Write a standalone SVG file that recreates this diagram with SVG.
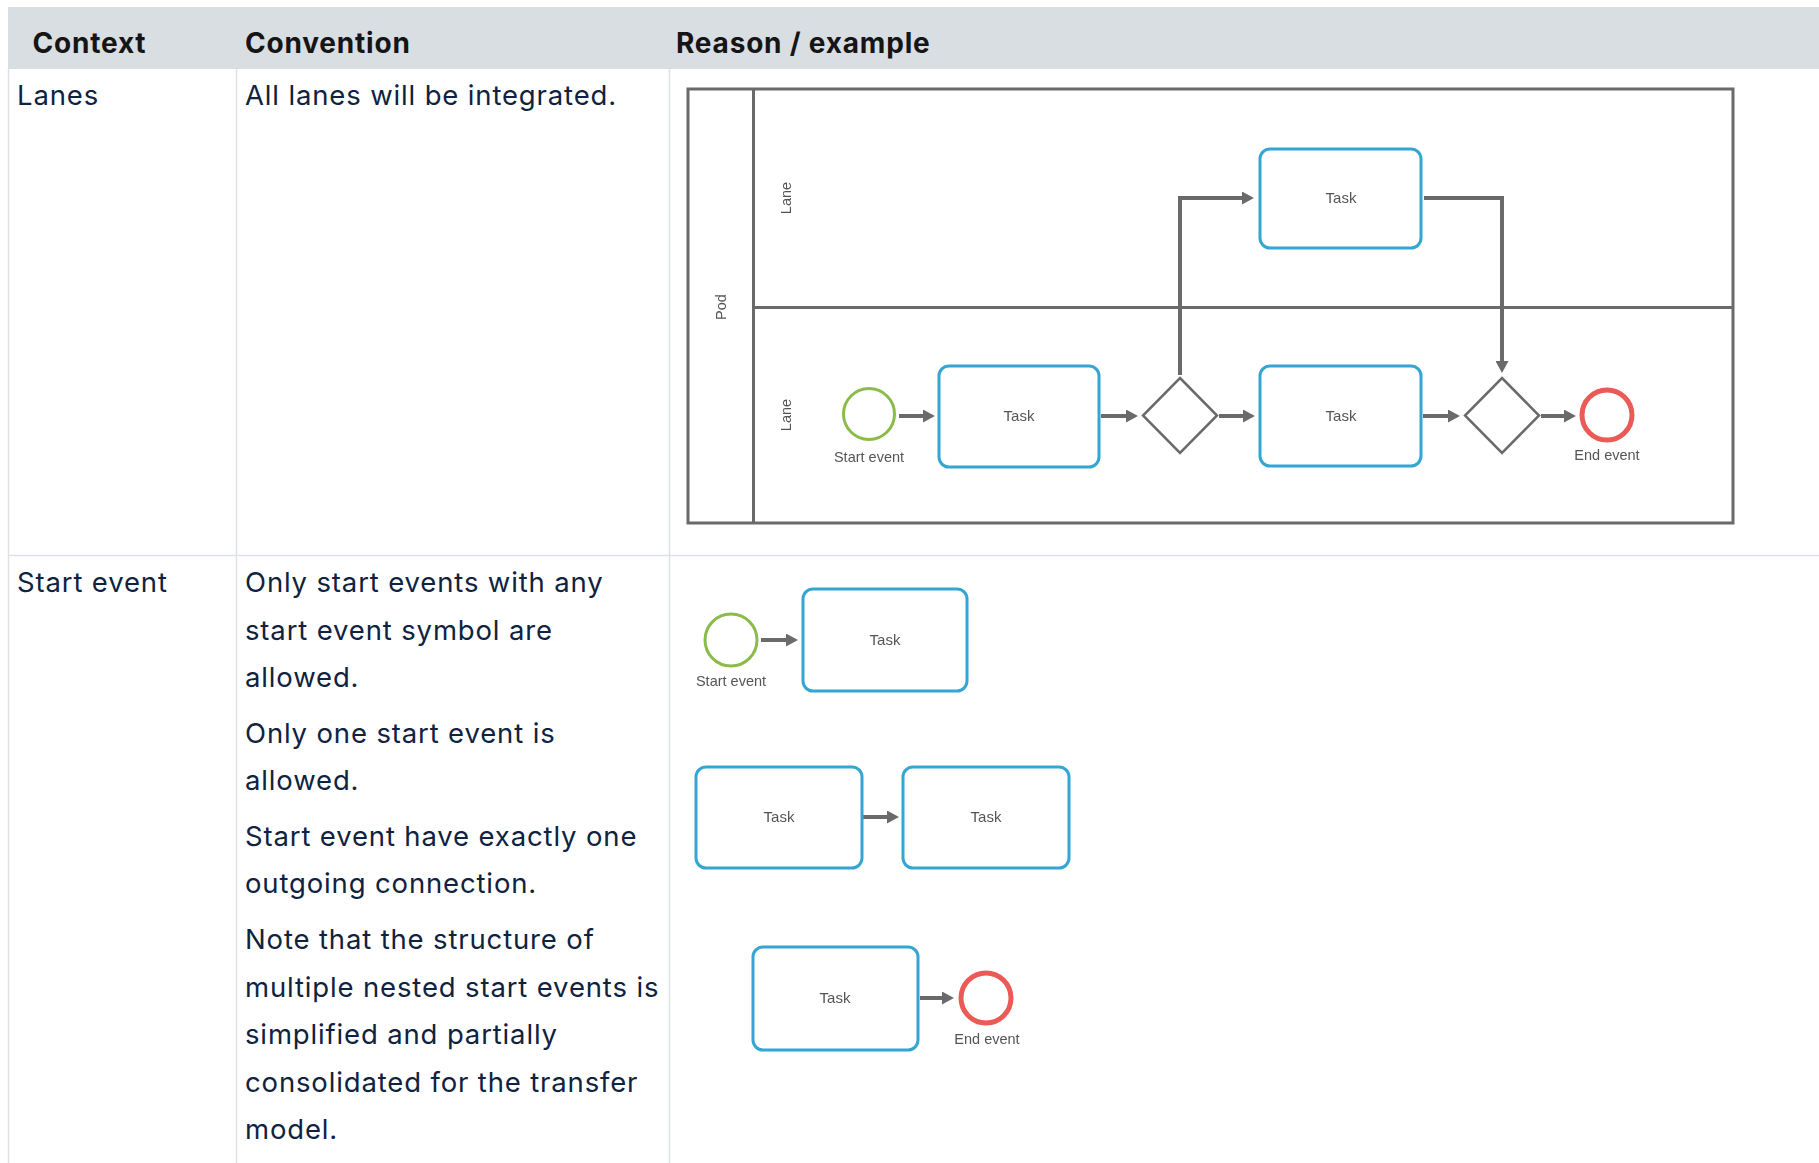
<svg xmlns="http://www.w3.org/2000/svg" width="1819" height="1163" viewBox="0 0 1819 1163">
  <style>
    .hdr { font-family: Inter, "Noto Sans", "Liberation Sans", sans-serif; font-weight: 700; font-size: 28px; letter-spacing: 0.8px; fill: #151515; }
    .body { font-family: Inter, "Noto Sans", "Liberation Sans", sans-serif; font-size: 27.5px; letter-spacing: 0.85px; fill: #0f2340; }
    .grid { stroke: #dde1e5; stroke-width: 1.5; fill: none; }
    .lbl { font-family: "Liberation Sans", Arial, sans-serif; font-size: 14.5px; fill: #555; text-anchor: middle; }
    .tlbl { font-family: "Liberation Sans", Arial, sans-serif; font-size: 15px; fill: #555; text-anchor: middle; }
    .frame { fill: none; stroke: #6b6b6b; stroke-width: 3; }
    .task { fill: #fff; stroke: #34a6d3; stroke-width: 3; }
    .gate { fill: #fff; stroke: #6b6b6b; stroke-width: 2.5; }
    .start { fill: #fff; stroke: #8bbb4a; stroke-width: 3; }
    .end { fill: #fff; stroke: #ec5a57; stroke-width: 5; }
    .flow { fill: none; stroke: #6b6b6b; stroke-width: 4; marker-end: url(#arrow); }
  </style>
  <defs>
    <marker id="arrow" markerUnits="userSpaceOnUse" markerWidth="12" markerHeight="13" viewBox="0 0 12 13" refX="5" refY="6.5" orient="auto">
      <path d="M0,0 L12,6.5 L0,13 z" fill="#6b6b6b"/>
    </marker>
    <filter id="soft" x="-5%" y="-5%" width="110%" height="110%">
      <feGaussianBlur stdDeviation="0.55"/>
    </filter>
  </defs>

  <rect width="1819" height="1163" fill="#fff"/>

  <!-- table header -->
  <rect x="8" y="7" width="1811" height="62" fill="#d9dee2"/>
  <text class="hdr" x="32.5" y="52.7">Context</text>
  <text class="hdr" x="245" y="52.7">Convention</text>
  <text class="hdr" x="676" y="52.7">Reason / example</text>

  <!-- table grid -->
  <g id="table-grid">
    <line class="grid" x1="8.5" y1="69" x2="8.5" y2="1163"/>
    <line class="grid" x1="236.5" y1="69" x2="236.5" y2="1163"/>
    <line class="grid" x1="669.5" y1="69" x2="669.5" y2="1163"/>
    <line class="grid" x1="8" y1="555.5" x2="1819" y2="555.5"/>
  </g>

  <!-- row: Lanes -->
  <text class="body" x="17" y="104.5">Lanes</text>
  <text class="body" x="245" y="104.5">All lanes will be integrated.</text>

  <!-- row: Start event -->
  <text class="body" x="17" y="592">Start event</text>
  <g class="body">
    <text x="245" y="592">Only start events with any</text>
    <text x="245" y="639.6">start event symbol are</text>
    <text x="245" y="687.2">allowed.</text>
    <text x="245" y="742.7">Only one start event is</text>
    <text x="245" y="790.3">allowed.</text>
    <text x="245" y="845.8">Start event have exactly one</text>
    <text x="245" y="893.4">outgoing connection.</text>
    <text x="245" y="948.9">Note that the structure of</text>
    <text x="245" y="996.5">multiple nested start events is</text>
    <text x="245" y="1044.1">simplified and partially</text>
    <text x="245" y="1091.7">consolidated for the transfer</text>
    <text x="245" y="1139.3">model.</text>
  </g>

  <!-- pool with two lanes -->
  <g filter="url(#soft)">
    <g id="pod">
      <rect class="frame" x="688" y="89" width="1045" height="434"/>
      <line class="frame" x1="753.5" y1="89" x2="753.5" y2="523"/>
      <text class="lbl" transform="translate(726,307) rotate(-90)">Pod</text>
    </g>
    <g id="lane-top">
      <text class="lbl" transform="translate(791,198) rotate(-90)">Lane</text>
    </g>
    <g id="lane-bottom">
      <line class="frame" x1="753.5" y1="307.5" x2="1733" y2="307.5"/>
      <text class="lbl" transform="translate(791,415) rotate(-90)">Lane</text>
    </g>

    <g id="connectors">
      <line class="flow" x1="899" y1="416" x2="928" y2="416"/>
      <line class="flow" x1="1101" y1="416" x2="1131" y2="416"/>
      <polyline class="flow" points="1180,375 1180,198 1247,198"/>
      <line class="flow" x1="1219" y1="416" x2="1248" y2="416"/>
      <polyline class="flow" points="1424,198 1502,198 1502,366"/>
      <line class="flow" x1="1423" y1="416" x2="1453" y2="416"/>
      <line class="flow" x1="1541" y1="416" x2="1569" y2="416"/>
    </g>

    <g id="start-event">
      <circle class="start" cx="869" cy="414" r="25.5"/>
      <text class="lbl" x="869" y="462">Start event</text>
    </g>
    <g id="task-a">
      <rect class="task" x="939" y="366" width="160" height="101" rx="10"/>
      <text class="tlbl" x="1019" y="421">Task</text>
    </g>
    <g id="gateway-split">
      <polygon class="gate" points="1180,378 1217,415.5 1180,453 1143,415.5"/>
    </g>
    <g id="task-upper">
      <rect class="task" x="1260" y="149" width="161" height="99" rx="10"/>
      <text class="tlbl" x="1341" y="203">Task</text>
    </g>
    <g id="task-b">
      <rect class="task" x="1260" y="366" width="161" height="100" rx="10"/>
      <text class="tlbl" x="1341" y="421">Task</text>
    </g>
    <g id="gateway-join">
      <polygon class="gate" points="1502,378 1539,415.5 1502,453 1465,415.5"/>
    </g>
    <g id="end-event">
      <circle class="end" cx="1607" cy="415" r="25"/>
      <text class="lbl" x="1607" y="460">End event</text>
    </g>
  </g>

  <!-- start event examples -->
  <g filter="url(#soft)">
    <g id="connectors-examples">
      <line class="flow" x1="761" y1="640" x2="791" y2="640"/>
      <line class="flow" x1="863" y1="817" x2="892" y2="817"/>
      <line class="flow" x1="920" y1="998" x2="947" y2="998"/>
    </g>
    <g id="ex-start">
      <circle class="start" cx="731" cy="640" r="26"/>
      <text class="lbl" x="731" y="686">Start event</text>
    </g>
    <g id="ex-task-1">
      <rect class="task" x="803" y="589" width="164" height="102" rx="10"/>
      <text class="tlbl" x="885" y="645">Task</text>
    </g>
    <g id="ex-task-2">
      <rect class="task" x="696" y="767" width="166" height="101" rx="10"/>
      <text class="tlbl" x="779" y="822">Task</text>
    </g>
    <g id="ex-task-3">
      <rect class="task" x="903" y="767" width="166" height="101" rx="10"/>
      <text class="tlbl" x="986" y="822">Task</text>
    </g>
    <g id="ex-task-4">
      <rect class="task" x="753" y="947" width="165" height="103" rx="10"/>
      <text class="tlbl" x="835" y="1003">Task</text>
    </g>
    <g id="ex-end">
      <circle class="end" cx="986" cy="998" r="25"/>
      <text class="lbl" x="987" y="1044">End event</text>
    </g>
  </g>
</svg>
